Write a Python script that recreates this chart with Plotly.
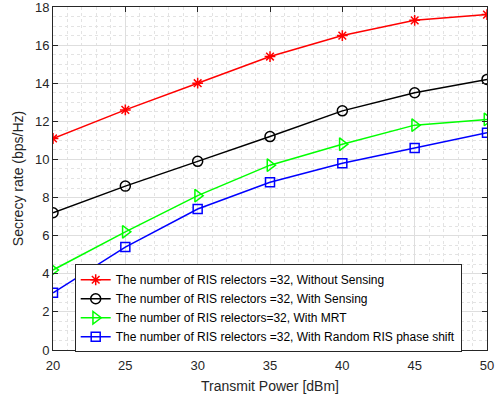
import plotly.graph_objects as go

power_dbm = [20, 25, 30, 35, 40, 45, 50]
without_sensing = [11.1, 12.6, 14.0, 15.4, 16.5, 17.3, 17.6]
with_sensing = [7.2, 8.6, 9.9, 11.2, 12.55, 13.5, 14.2]
with_mrt = [4.2, 6.2, 8.1, 9.7, 10.8, 11.8, 12.1]
random_phase = [3.0, 5.4, 7.4, 8.8, 9.8, 10.6, 11.4]

names = [
    "The number of RIS relectors =32, Without Sensing",
    "The number of RIS relectors =32, With Sensing",
    "The number of RIS relectors=32, With MRT",
    "The number of RIS relectors =32, With Random RIS phase shift",
]
series = [without_sensing, with_sensing, with_mrt, random_phase]
colors = ["#ff0000", "#000000", "#00ff00", "#0000ff"]
symbols = ["asterisk-open", "circle-open", "triangle-right-open", "square-open"]
sizes = [9, 10, 11, 9]

FONT = "Liberation Sans, Arial, sans-serif"

fig = go.Figure()
for n, s, c, sym, sz in zip(names, series, colors, symbols, sizes):
    fig.add_trace(go.Scatter(
        x=power_dbm, y=s, name=n, mode="lines+markers",
        line=dict(color=c, width=1.5),
        marker=dict(symbol=sym, size=sz, color=c, line=dict(color=c, width=1.5)),
    ))

axis_common = dict(
    showline=True, linecolor="#262626", linewidth=1, mirror="allticks",
    ticks="inside", ticklen=5, tickcolor="#262626",
    showgrid=True, gridcolor="#dedede", gridwidth=1,
    zeroline=False, automargin=False, ticklabeloverflow="allow",
    tickfont=dict(family=FONT, size=13, color="#262626"),
)

fig.update_xaxes(
    range=[20, 50], tick0=20, dtick=5, ticklabelstandoff=3,
    minor=dict(dtick=1, showgrid=True, gridcolor="#e3e3e3", griddash="dot", ticks=""),
    title=dict(text="Transmit Power [dBm]", standoff=9,
               font=dict(family=FONT, size=14, color="#262626")),
    **axis_common,
)
fig.update_yaxes(
    range=[0, 18], tick0=0, dtick=2,
    minor=dict(dtick=0.5, showgrid=True, gridcolor="#e3e3e3", griddash="dot", ticks=""),
    title=dict(text="Secrecy rate (bps/Hz)", standoff=8,
               font=dict(family=FONT, size=14, color="#262626")),
    **axis_common,
)

fig.update_layout(
    width=500, height=396,
    margin=dict(l=53, r=13, t=7, b=46),
    plot_bgcolor="white", paper_bgcolor="white",
    legend=dict(
        x=0.05, y=0.25, xanchor="left", yanchor="top",
        bgcolor="white", bordercolor="#262626", borderwidth=1,
        font=dict(family=FONT, size=12, color="#000000"),
        tracegroupgap=0, itemwidth=30,
    ),
)

fig.write_html("out.html", config={"displayModeBar": False},
               post_script="document.body.style.margin='0';")
